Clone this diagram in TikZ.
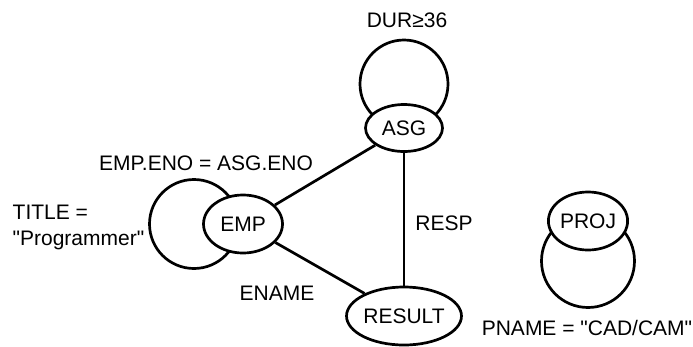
\documentclass[tikz,border=0pt]{standalone}
\usepackage{fontspec}
\setmainfont{Liberation Sans}
\usetikzlibrary{shapes.geometric}
\begin{document}
\begin{tikzpicture}[x=1pt, y=-1pt, line width=2.7pt,
    every node/.style={font=\fontsize{21}{26}\selectfont},
    relation/.style={draw, ellipse, fill=white, inner sep=0pt},
    selfloop/.style={draw, circle, inner sep=0pt, minimum size=#1}]
    \useasboundingbox (0,0) rectangle (693,346);
    % selection loops
    \node[selfloop=88pt] (asgloop) at (404,84) {};
    \node[selfloop=89pt] (emploop) at (194,224) {};
    \node[selfloop=93pt] (projloop) at (588,261) {};
    % relations
    \node[relation, minimum width=77pt, minimum height=47pt] (asg) at (404,128) {ASG};
    \node[relation, minimum width=79pt, minimum height=58pt] (emp) at (243,224) {EMP};
    \node[relation, minimum width=97pt, minimum height=58pt] (result) at (404,316) {RESULT};
    \node[relation, minimum width=78pt, minimum height=58pt] (proj) at (588,221) {PROJ};
    % joins
    \draw (emp) -- (asg);
    \draw (emp) -- (result);
    \draw (asg) -- (result);
    % labels
    \node (durlbl) at (407,20) {DUR≥36};
    \node (joinlbl) at (206,163) {EMP.ENO = ASG.ENO};
    \node[anchor=west, align=left] (titlelbl) at (8,227) {TITLE =\\\textquotedbl Programmer\textquotedbl};
    \node (enamelbl) at (277,293) {ENAME};
    \node (resplbl) at (444,223) {RESP};
    \node (pnamelbl) at (587,328) {PNAME = \textquotedbl CAD/CAM\textquotedbl};
\end{tikzpicture}
\end{document}
